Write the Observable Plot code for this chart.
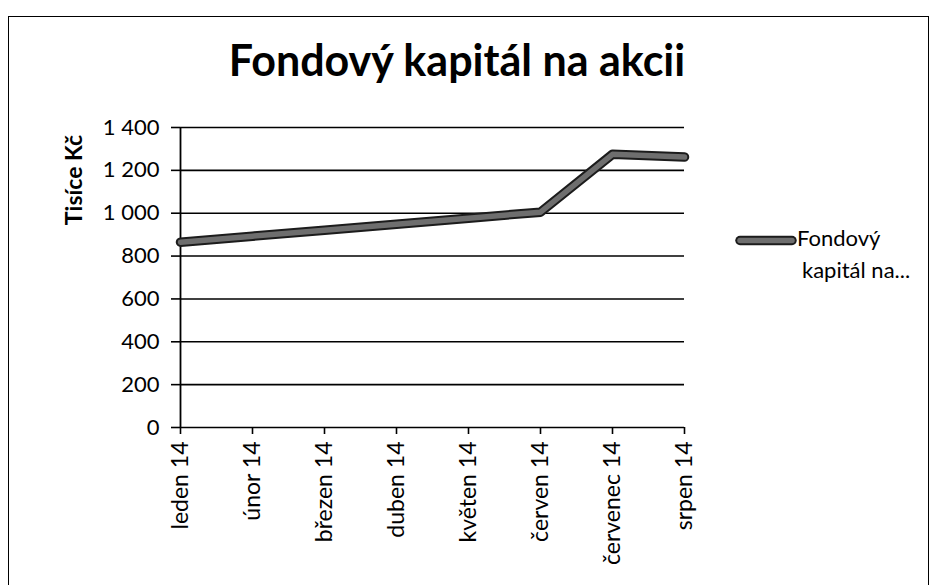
<!DOCTYPE html>
<html>
<head>
<meta charset="utf-8">
<script src="https://cdn.jsdelivr.net/npm/d3@7"></script>
<script src="https://cdn.jsdelivr.net/npm/@observablehq/plot@0.6"></script>
<style>
  html, body { margin: 0; padding: 0; background: #fff; }
  #wrap { position: relative; width: 937px; height: 585px; overflow: hidden; font-family: Lato, "Noto Sans", sans-serif; color: #000; }
  #frame { position: absolute; left: 8px; top: 16px; width: 921px; height: 600px; border: 1.5px solid #000; box-sizing: border-box; }
  #title { position: absolute; left: 0; width: 914px; top: 38px; text-align: center; font-weight: 700; font-size: 43px; line-height: 1; }
  #ylabel { position: absolute; left: 73px; top: 180px; transform: translate(-50%, -50%) rotate(-90deg); font-weight: 700; font-size: 23px; white-space: nowrap; }
  #legend { position: absolute; left: 736px; top: 222px; font-size: 22px; line-height: 32px; }
  #legend .sw { display: inline-block; vertical-align: middle; margin-right: 5px; margin-left: 4px; }
  #legend .t2 { padding-left: 66px; }
  #chart { position: absolute; left: 0; top: 0; }
</style>
</head>
<body>
<div id="wrap">
  <div id="frame"></div>
  <div id="title">Fondový kapitál na akcii</div>
  <div id="ylabel">Tisíce Kč</div>
  <div id="chart"></div>
  <div id="legend"></div>
</div>
<script>
const months = ["leden 14", "únor 14", "březen 14", "duben 14", "květen 14", "červen 14", "červenec 14", "srpen 14"];
const values = [865, 893, 920, 948, 977, 1005, 1275, 1262];
const yTicks = [0, 200, 400, 600, 800, 1000, 1200, 1400];
const seriesName = "Fondový kapitál na akcii";
const legendLines = ["Fondový", "kapitál na..."];

const data = months.map((m, i) => ({ month: m, value: values[i] }));
const fmt = d => d3.format(",")(d).replace(",", "\u00a0");

const chart = Plot.plot({
  width: 937,
  height: 585,
  marginLeft: 180,
  marginRight: 253,
  marginTop: 127,
  marginBottom: 158,
  style: { fontFamily: "Lato, 'Noto Sans', sans-serif", fontSize: "22px", background: "transparent", color: "#000", overflow: "visible" },
  x: { type: "point", domain: months, padding: 0 },
  y: { domain: [0, 1400] },
  marks: [
    Plot.ruleY(yTicks, { stroke: "#000", strokeWidth: 1.6 }),
    Plot.axisY({ ticks: yTicks, tickSize: 9, tickPadding: 12, tickFormat: fmt, label: null, stroke: "#000", strokeWidth: 1.6 }),
    Plot.ruleX([months[0]], { stroke: "#000", strokeWidth: 1.8 }),
    Plot.axisX({ tickRotate: -90, tickSize: 7, tickPadding: 7, label: null, stroke: "#000", strokeWidth: 1.6, fontSize: 23 }),
    Plot.line(data, { x: "month", y: "value", stroke: "#1c1c1c", strokeWidth: 9.5, strokeLinejoin: "round" }),
    Plot.line(data, { x: "month", y: "value", stroke: "#6e6e6e", strokeWidth: 5.5, strokeLinejoin: "round" })
  ]
});
document.getElementById("chart").appendChild(chart);

// legend
const lg = document.getElementById("legend");
const sw = Plot.plot({
  width: 52, height: 14, margin: 0,
  style: { background: "transparent", overflow: "visible" },
  x: { domain: [0, 1], axis: null }, y: { domain: [0, 1], axis: null },
  marks: [
    Plot.ruleY([0.5], { stroke: "#1c1c1c", strokeWidth: 9.5, strokeLinecap: "round" }),
    Plot.ruleY([0.5], { stroke: "#6e6e6e", strokeWidth: 5.5, strokeLinecap: "round" })
  ]
});
sw.classList.add("sw");
const l1 = document.createElement("div");
l1.appendChild(sw);
l1.appendChild(document.createTextNode(legendLines[0]));
const l2 = document.createElement("div");
l2.className = "t2";
l2.textContent = legendLines[1];
lg.appendChild(l1);
lg.appendChild(l2);
</script>
</body>
</html>
